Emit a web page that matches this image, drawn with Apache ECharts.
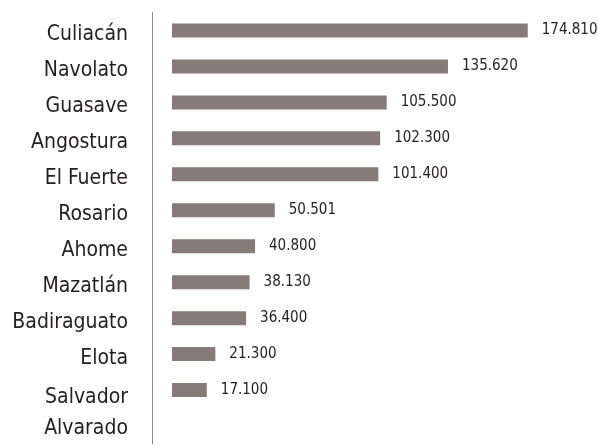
<!DOCTYPE html>
<html>
<head>
<meta charset="utf-8">
<script src="https://cdn.jsdelivr.net/npm/echarts@6/dist/echarts.min.js"></script>
<style>
  html, body { margin: 0; padding: 0; background: #ffffff; }
  #chart { width: 598px; height: 446px; }
</style>
</head>
<body>
<div id="chart"></div>
<script>
// Municipios (top to bottom) and their values
const municipios = ['Culiacán', 'Navolato', 'Guasave', 'Angostura', 'El Fuerte', 'Rosario',
  'Ahome', 'Mazatlán', 'Badiraguato', 'Elota', 'Salvador\nAlvarado'];
const valores = [174.810, 135.620, 105.500, 102.300, 101.400, 50.501,
  40.800, 38.130, 36.400, 21.300, 17.100];
const etiquetas = ['174.810', '135.620', '105.500', '102.300', '101.400', '50.501',
  '40.800', '38.130', '36.400', '21.300', '17.100'];

const textColor = '#231f20';
const barColor = '#877b79';
const nameFont = '"DejaVu Sans Condensed", "DejaVu Sans", sans-serif';

const chart = echarts.init(document.getElementById('chart'), null, { renderer: 'canvas' });
chart.setOption({
  animation: false,
  backgroundColor: '#ffffff',
  grid: { left: 172, right: 19, top: 12.5, bottom: 2, containLabel: false, outerBoundsMode: 'none' },
  xAxis: {
    type: 'value',
    min: 0,
    max: 200,
    show: false
  },
  yAxis: {
    type: 'category',
    inverse: true,
    data: municipios,
    max: 11,
    offset: 20,
    axisLine: { show: true, onZero: false, lineStyle: { color: '#8c8c8c', width: 1 } },
    axisTick: { show: false },
    splitLine: { show: false },
    axisLabel: {
      interval: 0,
      margin: 24,
      color: textColor,
      fontFamily: nameFont,
      fontSize: 21,
      verticalAlign: 'top',
      lineHeight: 8,
      formatter: function (v) {
        if (v == null || v === 'undefined') return '';
        if (v.indexOf('\n') >= 0) {
          const parts = v.split('\n');
          return '{l1|' + parts[0] + '}\n{l2|' + parts[1] + '}';
        }
        return v;
      },
      rich: {
        l1: { fontFamily: nameFont, fontSize: 21, color: textColor, lineHeight: 14, align: 'right' },
        l2: { fontFamily: nameFont, fontSize: 21, color: textColor, lineHeight: 48, align: 'right' }
      }
    }
  },
  series: [{
    type: 'bar',
    data: valores,
    barWidth: 14,
    itemStyle: { color: barColor },
    label: {
      show: true,
      position: 'right',
      distance: 14,
      color: textColor,
      fontFamily: '"DejaVu Sans Condensed", "DejaVu Sans", sans-serif',
      fontSize: 15,
      formatter: function (p) { return etiquetas[p.dataIndex]; }
    }
  }]
});
</script>
</body>
</html>
